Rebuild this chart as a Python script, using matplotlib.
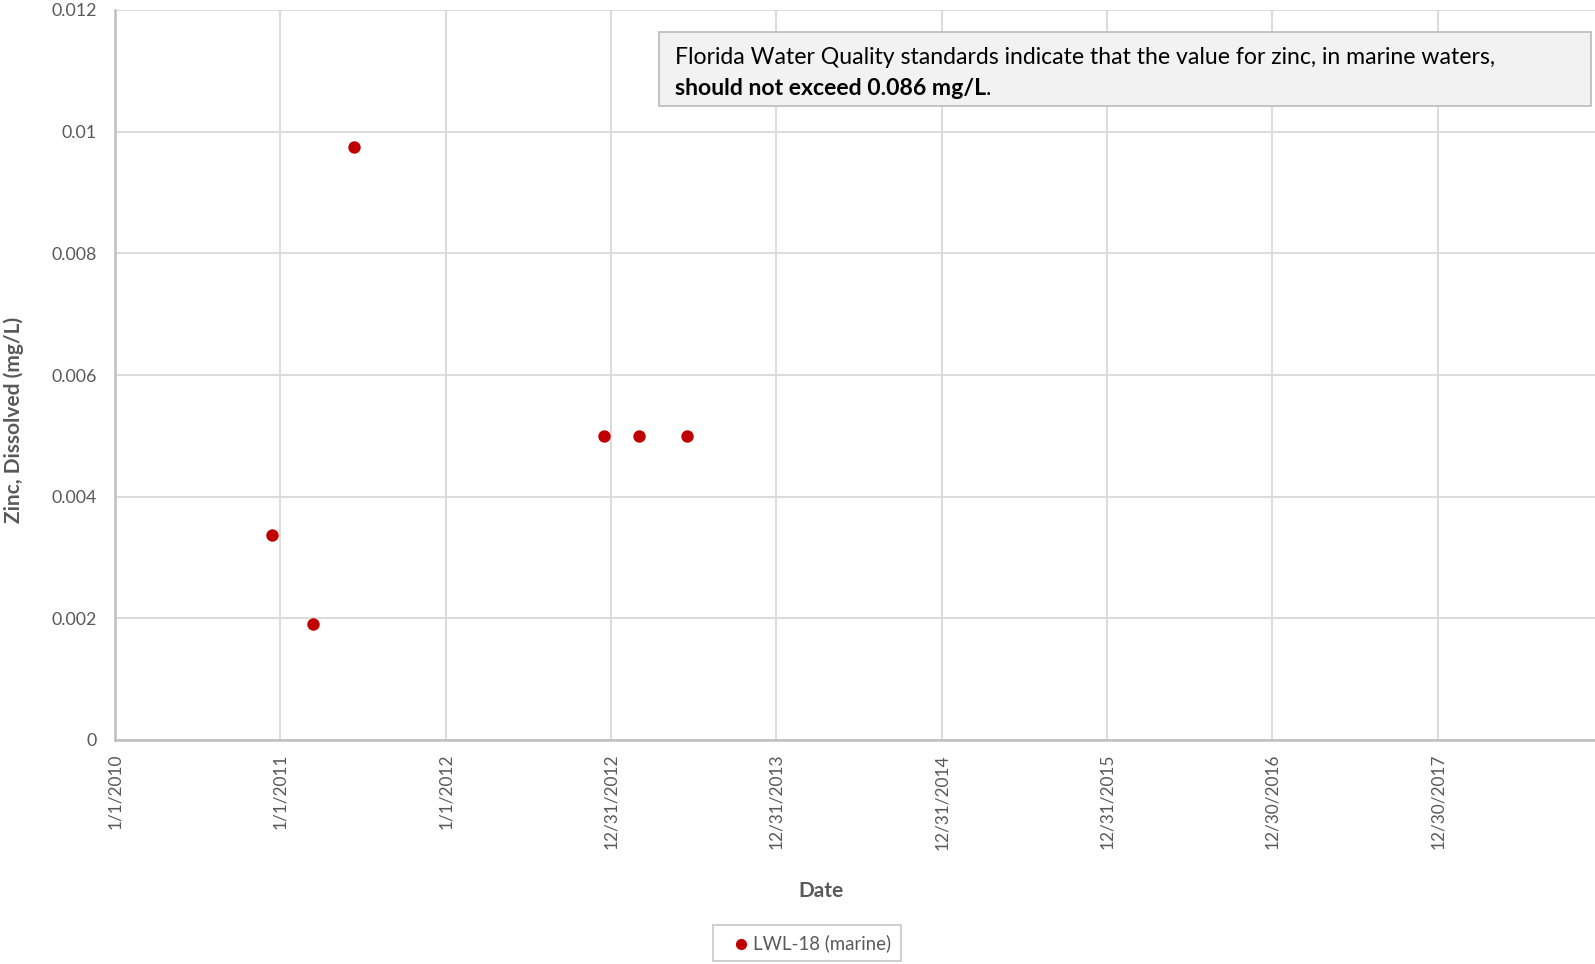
import pandas as pd
import matplotlib
matplotlib.use('Agg')
import matplotlib.pyplot as plt
from matplotlib.text import Annotation

plt.rcParams['font.family'] = ['Lato', 'DejaVu Sans']

# LWL-18 (marine) samples
sample_dates = pd.to_datetime(['2010-12-14', '2011-03-14', '2011-06-12',
                               '2012-12-16', '2013-03-03', '2013-06-17'])
zinc = [0.00337, 0.0019, 0.00975, 0.005, 0.005, 0.005]

tick_dates = pd.to_datetime(['2010-01-01', '2011-01-01', '2012-01-01', '2012-12-31',
                             '2013-12-31', '2014-12-31', '2015-12-31', '2016-12-30',
                             '2017-12-30'])
tick_labels = ['1/1/2010', '1/1/2011', '1/1/2012', '12/31/2012', '12/31/2013',
               '12/31/2014', '12/31/2015', '12/30/2016', '12/30/2017']
y_ticks = [0, 0.002, 0.004, 0.006, 0.008, 0.01, 0.012]

grey = '#595959'
W, H = 1595, 964
fig = plt.figure(figsize=(W / 100, H / 100), dpi=100)
# plot area runs past the right edge like the original
ax = fig.add_axes([115 / W, 1 - 740 / H, (1603 - 115) / W, 730 / H])

ax.scatter(sample_dates, zinc, s=80, color='#c00000', zorder=3,
           label='LWL-18 (marine)', linewidths=0)

ax.set_xlim(pd.Timestamp('2010-01-01'), pd.Timestamp('2018-12-30'))
ax.set_ylim(0, 0.012)
ax.set_xticks(tick_dates)
ax.set_xticklabels(tick_labels, rotation=90, fontsize=12.4, color=grey)
ax.set_yticks(y_ticks)
ax.set_yticklabels(['%g' % v for v in y_ticks], fontsize=12.8, color=grey)
ax.tick_params(axis='both', length=0)
ax.tick_params(axis='x', pad=10)
ax.tick_params(axis='y', pad=13)

ax.grid(True, color='#d9d9d9', linewidth=1.3)
ax.set_axisbelow(True)
for side in ['top', 'right']:
    ax.spines[side].set_visible(False)
for side in ['left', 'bottom']:
    ax.spines[side].set_color('#bfbfbf')
    ax.spines[side].set_linewidth(1.8)

fig.text(14 / W, 1 - 420 / H, 'Zinc, Dissolved (mg/L)', rotation=90, ha='center',
         va='center', fontsize=15, fontweight='bold', color=grey)
fig.text(821 / W, 1 - 891 / H, 'Date', ha='center', va='center',
         fontsize=15, fontweight='bold', color=grey)

# note box
fig.patches.append(plt.Rectangle((659 / W, 1 - 106 / H), (1591 - 659) / W, 74.5 / H,
                                 transform=fig.transFigure, facecolor='#f2f2f2',
                                 edgecolor='#bfbfbf', linewidth=1.3))
fig.text(675 / W, 1 - 58 / H,
         'Florida Water Quality standards indicate that the value for zinc, in marine waters,',
         ha='left', va='center', fontsize=16.6, color='black')
bold = fig.text(675 / W, 1 - 88.5 / H, 'should not exceed 0.086 mg/L', ha='left',
                va='center', fontsize=16.6, fontweight='bold', color='black')
fig.add_artist(Annotation('.', xy=(1, 0), xycoords=bold, ha='left', va='bottom',
                          fontsize=16.6, color='black', zorder=4))

leg = fig.legend(loc='center', bbox_to_anchor=(807 / W, 1 - 943 / H), fontsize=13.4,
                 frameon=True, fancybox=False, handletextpad=-0.35, borderpad=0.5,
                 markerscale=0.9, handlelength=2.0)
leg.get_frame().set_edgecolor('#bfbfbf')
leg.get_frame().set_linewidth(1.3)
for t in leg.get_texts():
    t.set_color(grey)

fig.savefig('out.png', dpi=100)
